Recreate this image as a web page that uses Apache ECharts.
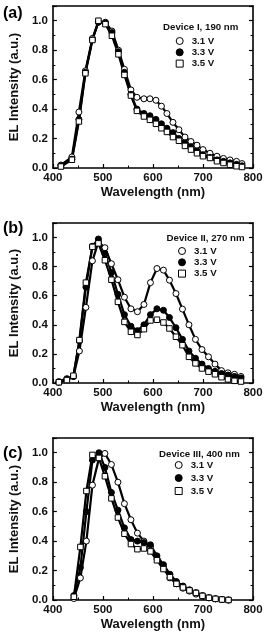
<!DOCTYPE html>
<html>
<head>
<meta charset="utf-8">
<script src="https://cdn.jsdelivr.net/npm/echarts@6/dist/echarts.min.js"></script>
<style>html,body{margin:0;padding:0;background:#fff;}#c{width:266px;height:632px;}</style>
</head>
<body>
<div id="c"></div>
<script>
// ---- Data ----
const panelLabels = ['(a)', '(b)', '(c)'];
const deviceTitles = ['Device I, 190 nm', 'Device II, 270 nm', 'Device III, 400 nm'];
const seriesNames = ['3.1 V', '3.3 V', '3.5 V'];
const xTicks = [400, 500, 600, 700, 800];
const yTicks = [0.0, 0.2, 0.4, 0.6, 0.8, 1.0];

const waveA = [416, 438, 452, 465, 479, 491, 505, 518, 531, 543, 556, 568, 582, 594, 606, 617, 628, 640, 652, 664, 676, 688, 700, 714, 728, 741, 754, 767, 778];
const a31 = [0.02, 0.075, 0.38, 0.66, 0.88, 0.99, 0.99, 0.93, 0.80, 0.67, 0.53, 0.48, 0.47, 0.47, 0.46, 0.42, 0.37, 0.31, 0.26, 0.21, 0.18, 0.155, 0.125, 0.10, 0.08, 0.065, 0.055, 0.045, 0.03];
const a33 = [0.015, 0.06, 0.33, 0.65, 0.87, 0.99, 0.985, 0.92, 0.79, 0.65, 0.50, 0.40, 0.37, 0.355, 0.33, 0.30, 0.27, 0.24, 0.20, 0.17, 0.145, 0.115, 0.09, 0.072, 0.055, 0.045, 0.035, 0.025, 0.015];
const a35 = [0.01, 0.056, 0.316, 0.643, 0.869, 1.0, 0.977, 0.898, 0.772, 0.632, 0.492, 0.388, 0.35, 0.327, 0.30, 0.27, 0.245, 0.21, 0.185, 0.15, 0.125, 0.10, 0.08, 0.068, 0.046, 0.034, 0.022, 0.012, 0.007];

const waveB = [412, 428, 441, 453, 466, 479, 491, 504, 517, 530, 543, 556, 569, 582, 595, 608, 621, 633, 646, 659, 672, 685, 698, 711, 724, 737, 750, 763, 776];
const b31 = [0.01, 0.03, 0.045, 0.22, 0.52, 0.84, 0.97, 0.93, 0.82, 0.71, 0.59, 0.51, 0.49, 0.54, 0.69, 0.787, 0.776, 0.707, 0.615, 0.508, 0.40, 0.30, 0.23, 0.18, 0.13, 0.085, 0.07, 0.06, 0.045];
const b33 = [0.005, 0.025, 0.045, 0.29, 0.66, 0.94, 0.99, 0.89, 0.76, 0.61, 0.47, 0.39, 0.36, 0.40, 0.47, 0.51, 0.50, 0.45, 0.38, 0.30, 0.22, 0.17, 0.13, 0.10, 0.08, 0.065, 0.055, 0.045, 0.035];
const b35 = [0.005, 0.02, 0.05, 0.295, 0.69, 0.936, 0.96, 0.844, 0.71, 0.558, 0.42, 0.352, 0.33, 0.37, 0.43, 0.435, 0.416, 0.375, 0.318, 0.26, 0.18, 0.135, 0.10, 0.078, 0.06, 0.04, 0.025, 0.015, 0.01];

const waveC = [442, 455, 467, 479, 492, 504, 517, 530, 543, 556, 569, 582, 595, 608, 621, 634, 647, 660, 673, 686, 699, 712, 725, 738, 751];
const c31 = [0.01, 0.15, 0.40, 0.78, 0.96, 0.995, 0.92, 0.80, 0.654, 0.545, 0.454, 0.40, 0.36, 0.28, 0.22, 0.15, 0.11, 0.08, 0.06, 0.04, 0.025, 0.015, 0.008, 0.003, 0.0];
const c33 = [0.03, 0.22, 0.60, 0.95, 1.0, 0.90, 0.73, 0.61, 0.49, 0.41, 0.40, 0.39, 0.375, 0.30, 0.24, 0.175, 0.125, 0.095, 0.07, 0.05, 0.03, 0.015, 0.008, 0.003, 0.0];
const c35 = [0.022, 0.36, 0.74, 0.985, 0.965, 0.84, 0.69, 0.56, 0.45, 0.38, 0.345, 0.35, 0.33, 0.27, 0.21, 0.155, 0.11, 0.085, 0.065, 0.048, 0.028, 0.015, 0.008, 0.003, 0.0];

const panels = [
  { wave: waveA, vals: [a31, a33, a35] },
  { wave: waveB, vals: [b31, b33, b35] },
  { wave: waveC, vals: [c31, c33, c35] }
];

// ---- Layout / style ----
const FONT = 'Liberation Sans, Arial, sans-serif';
const gridTops = [6, 223, 438];
const gridHeights = [162, 160, 162];
const legendTops = [36, 246, 460];
const legendGaps = [1.3, 1.3, 3];
const titleTops = [22, 233, 449.5];
const titleLefts = [163, 166.5, 159];
const legendLefts = [175.7, 178, 174.7];
const labelTops = [6, 221, 446];
const squarePath = 'path://M0,0L10,0L10,10L0,10Z';
const symbols = [
  { symbol: 'circle', icon: 'circle', color: '#fff' },
  { symbol: 'circle', icon: 'circle', color: '#000' },
  { symbol: 'rect', icon: squarePath, color: '#fff' }
];

const grids = [], xAxes = [], yAxes = [], series = [], legends = [], titles = [], graphics = [];
const axisLineStyle = { color: '#000', width: 1.6 };

panels.forEach((p, g) => {
  grids.push({ left: 52, right: 13, top: gridTops[g], height: gridHeights[g], containLabel: false });
  xAxes.push({
    type: 'value', gridIndex: g, position: 'bottom',
    min: xTicks[0], max: xTicks[xTicks.length - 1], interval: xTicks[1] - xTicks[0],
    axisLine: { show: true, onZero: false, lineStyle: axisLineStyle },
    axisTick: { show: true, inside: true, length: 4, lineStyle: { color: '#000', width: 1.2 } },
    minorTick: { show: true, splitNumber: 2, length: 2.5, lineStyle: { color: '#000', width: 1 } },
    splitLine: { show: false },
    axisLabel: { color: '#111', fontSize: 11.5, fontWeight: 'bold', fontFamily: FONT, margin: 4 },
    name: 'Wavelength (nm)', nameLocation: 'middle', nameGap: 18,
    nameTextStyle: { color: '#111', fontSize: 13, fontWeight: 'bold', fontFamily: FONT }
  });
  xAxes.push({
    type: 'value', gridIndex: g, position: 'top',
    min: xTicks[0], max: xTicks[xTicks.length - 1], interval: xTicks[1] - xTicks[0],
    axisLine: { show: true, onZero: false, lineStyle: axisLineStyle },
    axisTick: { show: false }, axisLabel: { show: false }, splitLine: { show: false }
  });
  yAxes.push({
    type: 'value', gridIndex: g, position: 'left',
    min: 0, max: 1.1, interval: yTicks[1] - yTicks[0],
    axisLine: { show: true, onZero: false, lineStyle: axisLineStyle },
    axisTick: { show: true, inside: true, length: 4, lineStyle: { color: '#000', width: 1.2 } },
    minorTick: { show: true, splitNumber: 2, length: 2.5, lineStyle: { color: '#000', width: 1 } },
    splitLine: { show: false },
    axisLabel: {
      color: '#111', fontSize: 11.5, fontWeight: 'bold', fontFamily: FONT, margin: 5,
      formatter: v => (yTicks.some(t => Math.abs(t - v) < 1e-6) ? v.toFixed(1) : '')
    },
    name: 'EL Intensity (a.u.)', nameLocation: 'middle', nameGap: 31,
    nameTextStyle: { color: '#111', fontSize: 13, fontWeight: 'bold', fontFamily: FONT }
  });
  yAxes.push({
    type: 'value', gridIndex: g, position: 'right',
    min: 0, max: 1.1, interval: yTicks[1] - yTicks[0],
    axisLine: { show: true, onZero: false, lineStyle: axisLineStyle },
    axisTick: { show: true, inside: true, length: 4, lineStyle: { color: '#000', width: 1.2 } },
    minorTick: { show: true, splitNumber: 2, length: 2.5, lineStyle: { color: '#000', width: 1 } },
    axisLabel: { show: false }, splitLine: { show: false }
  });

  p.vals.forEach((vals, s) => {
    const data = p.wave.map((w, i) => [w, vals[i]]);
    series.push({
      type: 'line', name: 'line' + g + s, xAxisIndex: g * 2, yAxisIndex: g * 2,
      data, showSymbol: false, silent: true, z: 2,
      lineStyle: { color: '#000', width: 2.2 }
    });
  });
  p.vals.forEach((vals, s) => {
    const data = p.wave.map((w, i) => [w, vals[i]]);
    series.push({
      type: 'scatter', name: seriesNames[s], xAxisIndex: g * 2, yAxisIndex: g * 2,
      data, symbol: symbols[s].symbol, symbolSize: s === 2 ? 5.5 : 6, z: 3,
      itemStyle: { color: symbols[s].color, borderColor: '#000', borderWidth: 1, opacity: 1 }
    });
  });

  legends.push({
    orient: 'vertical', left: legendLefts[g], top: legendTops[g], padding: 0,
    itemWidth: 14, itemHeight: 7, itemGap: legendGaps[g],
    selectedMode: false, symbolKeepAspect: true,
    textStyle: { color: '#111', fontSize: 9.7, fontWeight: 'bold', fontFamily: FONT, lineHeight: 10 },
    data: seriesNames.map((n, s) => ({
      name: n, icon: symbols[s].icon,
      itemStyle: { color: symbols[s].color, borderColor: '#000', borderWidth: 1 }
    }))
  });
  titles.push({
    text: deviceTitles[g], left: titleLefts[g], top: titleTops[g], padding: 0,
    textStyle: { color: '#111', fontSize: 9.7, fontWeight: 'bold', fontFamily: FONT }
  });
  graphics.push({
    type: 'text', left: 3, top: labelTops[g],
    style: { text: panelLabels[g], fill: '#000', font: 'bold 16px ' + FONT }
  });
});

const chart = echarts.init(document.getElementById('c'), null, { renderer: 'canvas' });
chart.setOption({
  animation: false,
  backgroundColor: '#fff',
  title: titles,
  legend: legends,
  grid: grids,
  xAxis: xAxes,
  yAxis: yAxes,
  series,
  graphic: graphics
});
</script>
</body>
</html>
